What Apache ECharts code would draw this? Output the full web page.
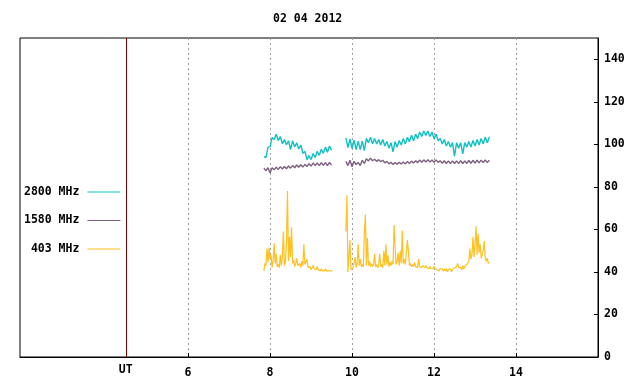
<!DOCTYPE html>
<html><head><meta charset="utf-8">
<script src="https://cdn.jsdelivr.net/npm/echarts@6/dist/echarts.min.js"></script>
<style>html,body{margin:0;padding:0;background:#fff}#c{width:640px;height:384px}</style>
</head><body><div id="c"></div>
<script>
const titleText = '02 04 2012';
const seriesNames = ['2800 MHz', '1580 MHz', '\u00a0403 MHz'];
const seriesColors = ['#10c0c0', '#7f5f7f', '#ffc020'];
const xTicks = [6, 8, 10, 12, 14];
const yTicks = [0, 20, 40, 60, 80, 100, 120, 140];
const utHour = 4.48;
const segAStart = 7.85, segBStart = 9.85;
const coarseStep = 0.05, fineStep = 0.025;

const mhz2800A = [94.2, 93.8, 98.7, 98.8, 103.2, 102.3, 104.7, 101.8, 103.7, 100.3, 102.2, 99.8, 101.7, 97.5, 101.7, 98.8, 100.7, 97.8, 99.7, 95.8, 96.7, 92.8, 94.7, 92.8, 95.7, 93.8, 96.7, 94.8, 97.7, 95.8, 98.7, 96.3, 99.2, 97.3];
const mhz2800B = [103, 98.5, 102.5, 98, 102, 97.5, 101.5, 97.5, 101.5, 97,
  102.8, 100.7, 103.3, 100.2, 102.8, 100.2, 102.3, 99.7, 102.3, 99.2,
  101.3, 98.2, 100.8, 96.5, 101.3, 98.7, 101.8, 99.7, 102.8, 100.2,
  103.3, 101.2, 104.3, 101.7, 104.8, 102.7, 105.8, 103.7, 106.3, 104.2,
  106.3, 103.7, 105.8, 102.7, 104.8, 101.7, 102.8, 100.2, 102.3, 99.2,
  101.3, 98.7, 100.8, 94.5, 100.8, 98.2, 100.8, 95.5, 100.8, 98.7,
  101.3, 98.7, 101.8, 99.2, 102.3, 99.7, 102.8, 100.2, 103.3, 100.7, 103.5];

const mhz1580A = [88.8, 87.6, 89, 86.5, 89, 88, 89.3, 88.2, 89.5, 88.4, 89.6, 88.5, 89.8, 88.8, 90, 89, 90.3, 89.2, 90.4, 89.3, 90.6, 89.5, 90.9, 89.8, 91.2, 90, 91.3, 90, 91.4, 90.1, 91.4, 90, 91.5, 90.2];
const mhz1580B = [92, 90, 92.5, 89.5, 92, 90.5, 91.5, 90, 92.5, 91,
  93.2, 92.2, 93.5, 92.3, 93, 92, 92.8, 91.8, 92.5,
  91.3, 92, 90.8, 91.6, 90.5, 91.5, 90.6, 91.6, 90.7, 91.7, 90.8,
  91.9, 91, 92.1, 91.2, 92.3, 91.4, 92.6, 91.6, 92.7, 91.7, 92.8, 91.7, 92.6, 91.6, 92.7, 91.5,
  92.3, 91.1, 92.3, 91, 92.2, 90.9, 92.2, 91, 92.2, 90.9, 92.3, 91, 92.2, 91, 92.4, 91.1,
  92.5, 91.2, 92.6, 91.3, 92.6, 91.4, 92.7, 91.4, 92.6];

const mhz403A = [40.5, 44, 43, 51, 44.5, 51.5, 46, 48, 42, 45,
  53.5, 44, 48.5, 42.5, 43.5, 42, 48, 43, 47, 59,
  43, 45, 53.5, 78, 45, 56.5, 47, 61, 44, 45.5,
  42.5, 44, 46.5, 43, 42.5, 44, 42, 45, 43, 53,
  43.5, 44, 46, 42, 41.5, 42.5, 41, 42, 43, 41.5,
  42, 41, 42.5, 41, 41.5, 40.5, 41.5, 40.5, 41, 40.5,
  41.5, 40.5, 41, 40.5, 41, 40.5, 40.8, 40.5];
const mhz403B = [59, 76, 40, 39.5, 55, 41, 41.5, 42, 41.5, 47,
  42, 44, 53, 43, 46, 42.5, 43.5, 42.5, 58, 67,
  43, 56, 43, 45, 42.5, 44, 42.5, 43.5, 48.5, 42.5,
  43.5, 42, 43, 48.5, 42.5, 43.5, 42, 50, 43, 53,
  43.5, 48, 42.5, 44.5, 43, 45, 43.5, 62, 52, 43.5,
  45, 49, 43, 50, 44, 59.5, 44, 46, 43.5, 44,
  55, 50, 43, 44, 42.5, 43.5, 42.5, 44.5, 42.5, 43,
  42, 46, 42.5, 43, 42, 43, 42.5, 42, 43, 42,
  42.5, 41.5, 42.5, 41.5, 42, 41.5, 42.5, 41.5, 42, 41,
  41.5, 40.5, 41.5, 41, 41.5, 40.5, 41.5, 40.5, 41.5, 40,
  41, 40.5, 41.5, 40, 41, 40.5, 42, 41.5, 42.5, 44,
  42, 41.5, 42, 41, 43, 41.5, 42.5, 42, 43.5, 43,
  45, 51, 46, 48, 56.5, 47, 53, 61.5, 48, 58,
  49, 53, 46.5, 48, 50, 54.5, 46, 45, 46.5, 44, 44.5];

function toPairs(start, step, vals) {
  return vals.map((v, i) => [+(start + i * step).toFixed(4), v]);
}

const FONT = 'DejaVu Sans Mono';
const txt = { fontFamily: FONT, fontWeight: 'bold', fontSize: 11.5, color: '#000' };

function lineSeries(name, color, width, data, extra) {
  return Object.assign({
    type: 'line', name: name, data: data, showSymbol: false, symbol: 'none',
    lineStyle: { color: color, width: width }, itemStyle: { color: color },
    animation: false, silent: true, z: 3
  }, extra || {});
}

const series = [
  lineSeries(seriesNames[0], seriesColors[0], 1.4, toPairs(segAStart, coarseStep, mhz2800A), {
    markLine: {
      silent: true, symbol: ['none', 'none'], animation: false,
      label: { show: false },
      lineStyle: { color: '#800000', type: 'solid', width: 1 },
      data: [{ xAxis: utHour }]
    }
  }),
  lineSeries(seriesNames[0], seriesColors[0], 1.4, toPairs(segBStart, coarseStep, mhz2800B)),
  lineSeries(seriesNames[1], seriesColors[1], 1.4, toPairs(segAStart, coarseStep, mhz1580A)),
  lineSeries(seriesNames[1], seriesColors[1], 1.4, toPairs(segBStart, coarseStep, mhz1580B)),
  lineSeries(seriesNames[2], seriesColors[2], 1.2, toPairs(segAStart, fineStep, mhz403A)),
  lineSeries(seriesNames[2], seriesColors[2], 1.2, toPairs(segBStart, fineStep, mhz403B))
];

const chart = echarts.init(document.getElementById('c'), null, { renderer: 'canvas' });
chart.setOption({
  animation: false,
  backgroundColor: '#fff',
  title: { text: titleText, left: 273, top: 13, padding: 0, textStyle: Object.assign({}, txt) },
  legend: {
    orient: 'vertical', left: 24, top: 185, align: 'right', padding: 0,
    itemWidth: 33, itemHeight: 1, itemGap: 14.5, icon: 'rect',
    selectedMode: false,
    data: seriesNames,
    textStyle: Object.assign({ lineHeight: 14, padding: [0, 3, 0, 0] }, txt)
  },
  grid: { left: 20, right: 42, top: 38, bottom: 27, show: true, borderColor: '#000', borderWidth: 1, containLabel: false, outerBoundsMode: 'none' },
  xAxis: {
    type: 'value', min: 1.9, max: 16,
    axisLine: { show: true, lineStyle: { color: '#000', width: 1 } },
    axisTick: { show: true, inside: true, length: 4, customValues: xTicks, lineStyle: { color: '#000' } },
    axisLabel: Object.assign({
      customValues: [utHour].concat(xTicks), margin: 7,
      formatter: v => (Math.abs(v - utHour) < 1e-6 ? '{u|UT}' : '{n|' + v + '}'),
      rich: { u: { padding: [0, 0, 3, 0] }, n: { padding: [3, 0, 0, 0] } }
    }, txt),
    splitLine: { show: true, lineStyle: { color: '#a0a0a0', type: [2, 3], width: 1 } }
  },
  yAxis: {
    type: 'value', position: 'right', min: 0, max: 150,
    axisLine: { show: true, lineStyle: { color: '#000', width: 1 } },
    axisTick: { show: true, inside: true, length: 4, customValues: yTicks, lineStyle: { color: '#000' } },
    axisLabel: Object.assign({ customValues: yTicks, margin: 6 }, txt),
    splitLine: { show: false }
  },
  series: series
});
</script></body></html>
